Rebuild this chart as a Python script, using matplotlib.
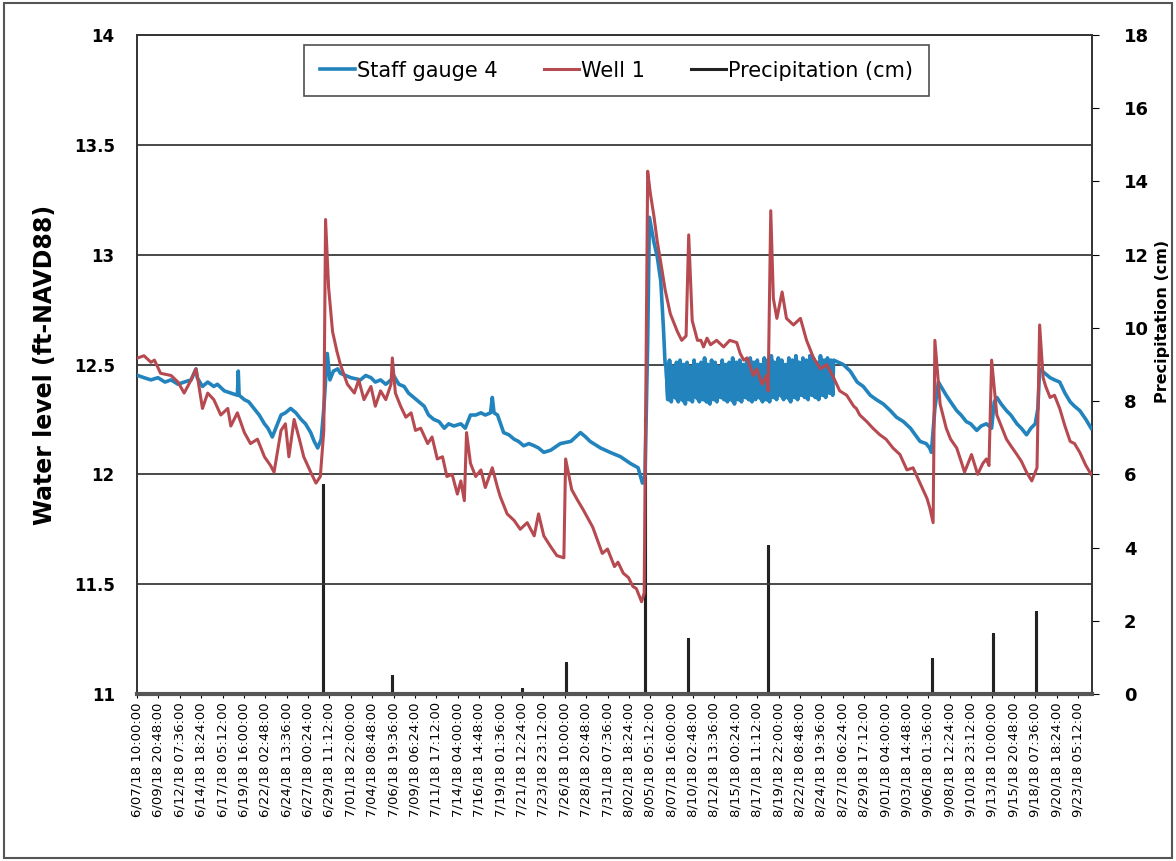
import numpy as np
import pandas as pd
import matplotlib
matplotlib.use("Agg")
import matplotlib.pyplot as plt
from matplotlib.patches import Rectangle
from matplotlib.collections import LineCollection

# keep every zig-zag of the dense gauge record
plt.rcParams["path.simplify"] = False

# ---- data (x = days since 6/07/18 10:00) ----
tick_labels = [
    "6/07/18 10:00:00", "6/09/18 20:48:00", "6/12/18 07:36:00", "6/14/18 18:24:00",
    "6/17/18 05:12:00", "6/19/18 16:00:00", "6/22/18 02:48:00", "6/24/18 13:36:00",
    "6/27/18 00:24:00", "6/29/18 11:12:00", "7/01/18 22:00:00", "7/04/18 08:48:00",
    "7/06/18 19:36:00", "7/09/18 06:24:00", "7/11/18 17:12:00", "7/14/18 04:00:00",
    "7/16/18 14:48:00", "7/19/18 01:36:00", "7/21/18 12:24:00", "7/23/18 23:12:00",
    "7/26/18 10:00:00", "7/28/18 20:48:00", "7/31/18 07:36:00", "8/02/18 18:24:00",
    "8/05/18 05:12:00", "8/07/18 16:00:00", "8/10/18 02:48:00", "8/12/18 13:36:00",
    "8/15/18 00:24:00", "8/17/18 11:12:00", "8/19/18 22:00:00", "8/22/18 08:48:00",
    "8/24/18 19:36:00", "8/27/18 06:24:00", "8/29/18 17:12:00", "9/01/18 04:00:00",
    "9/03/18 14:48:00", "9/06/18 01:36:00", "9/08/18 12:24:00", "9/10/18 23:12:00",
    "9/13/18 10:00:00", "9/15/18 20:48:00", "9/18/18 07:36:00", "9/20/18 18:24:00",
    "9/23/18 05:12:00",
]

gauge_days = [
    0.1, 0.8, 1.6, 2.4, 3.2, 3.9, 4.7, 5.4, 6.2, 6.75, 6.9, 7.5, 8.1, 8.8, 9.2, 10.0,
    10.75, 11.5, 11.6, 11.7, 12.3, 12.8, 13.4, 14.0, 14.6, 15.0, 15.5, 16.0, 16.5, 17.0,
    17.6, 18.2, 18.8, 19.3, 19.9, 20.3, 20.7, 21.1, 21.4, 21.8, 22.1, 22.5, 23.0, 23.3,
    24.5, 25.6, 26.2, 26.8, 27.3, 27.9, 28.5, 29.1, 29.4, 30.0, 30.6, 31.1, 31.7, 32.3,
    32.9, 33.4, 34.0, 34.6, 35.2, 35.7, 36.3, 37.1, 37.6, 38.2, 38.8, 39.4, 39.9, 40.5,
    40.7, 40.9, 41.3, 42.0, 42.6, 43.2, 43.7, 44.3, 44.9, 45.5, 46.0, 46.6, 47.4, 48.5,
    49.7, 50.8, 51.4, 51.9, 53.1, 54.2, 55.4, 56.5, 57.4, 57.9, 58.2, 58.5, 58.7, 59.2,
    59.6, 60.0, 60.3, 60.5,
]
gauge_ft = [
    12.45, 12.44, 12.43, 12.44, 12.42, 12.43, 12.41, 12.42, 12.43, 12.48, 12.44, 12.40,
    12.42, 12.40, 12.41, 12.38, 12.37, 12.36, 12.47, 12.36, 12.34, 12.33, 12.30, 12.27,
    12.23, 12.21, 12.17, 12.22, 12.27, 12.28, 12.30, 12.28, 12.25, 12.23, 12.19, 12.15,
    12.12, 12.16, 12.30, 12.55, 12.43, 12.47, 12.48, 12.46, 12.44, 12.43, 12.45, 12.44,
    12.42, 12.43, 12.41, 12.43, 12.45, 12.41, 12.40, 12.37, 12.35, 12.33, 12.31, 12.27,
    12.25, 12.24, 12.21, 12.23, 12.22, 12.23, 12.21, 12.27, 12.27, 12.28, 12.27, 12.28,
    12.35, 12.28, 12.27, 12.19, 12.18, 12.16, 12.15, 12.13, 12.14, 12.13, 12.12, 12.10,
    12.11, 12.14, 12.15, 12.19, 12.17, 12.15, 12.12, 12.10, 12.08, 12.05, 12.03, 11.96,
    12.00, 12.60, 13.17, 13.06, 12.99, 12.88, 12.67, 12.50,
]

# noisy stretch of the staff gauge (8/05 - 8/25): upper and lower swings
band_start, band_end = 60.6, 79.7
band_hi = [
    12.50, 12.52, 12.49, 12.51, 12.52, 12.50, 12.51, 12.49, 12.52, 12.50, 12.51, 12.53,
    12.50, 12.52, 12.51, 12.49, 12.52, 12.50, 12.51, 12.53, 12.51, 12.52, 12.50, 12.52,
    12.53, 12.51, 12.52, 12.50, 12.53, 12.52, 12.54, 12.51, 12.53, 12.52, 12.50, 12.53,
    12.52, 12.54, 12.51, 12.53, 12.52, 12.54, 12.53, 12.51, 12.54, 12.52, 12.53, 12.52,
]
band_lo = [
    12.34, 12.33, 12.35, 12.33, 12.34, 12.32, 12.34, 12.33, 12.35, 12.33, 12.34, 12.33,
    12.32, 12.34, 12.33, 12.35, 12.34, 12.33, 12.34, 12.32, 12.34, 12.33, 12.35, 12.34,
    12.33, 12.34, 12.35, 12.33, 12.34, 12.33, 12.35, 12.34, 12.36, 12.34, 12.35, 12.33,
    12.35, 12.34, 12.36, 12.35, 12.34, 12.36, 12.35, 12.34, 12.36, 12.35, 12.37, 12.36,
]

gauge_tail_days = [
    79.8, 80.9, 81.7, 82.5, 83.2, 84.0, 84.7, 85.5, 86.3, 87.0, 87.8, 88.6, 89.7, 90.4,
    90.8, 91.0, 91.4, 91.8, 92.1, 92.7, 93.2, 93.9, 94.4, 95.0, 95.5, 96.2, 96.7, 97.3,
    97.9, 98.2, 98.5, 99.0, 99.6, 100.1, 100.8, 101.3, 101.9, 102.4, 102.9, 103.2, 103.4,
    104.0, 104.6, 105.1, 105.7, 106.3, 106.9, 107.4, 108.0, 108.7, 109.3,
]
gauge_tail_ft = [
    12.52, 12.50, 12.47, 12.42, 12.40, 12.36, 12.34, 12.32, 12.29, 12.26, 12.24, 12.21,
    12.15, 12.14, 12.12, 12.10, 12.30, 12.42, 12.40, 12.36, 12.33, 12.29, 12.27, 12.24,
    12.23, 12.20, 12.22, 12.23, 12.21, 12.33, 12.35, 12.32, 12.29, 12.27, 12.23, 12.21,
    12.18, 12.21, 12.23, 12.30, 12.48, 12.46, 12.44, 12.43, 12.42, 12.37, 12.33, 12.31,
    12.29, 12.25, 12.21,
]

well_days = [
    0.1, 0.8, 1.6, 2.0, 2.7, 3.9, 4.7, 5.4, 6.2, 6.75, 6.9, 7.5, 8.1, 8.8, 9.6, 10.4,
    10.75, 11.5, 12.3, 13.0, 13.8, 14.6, 15.3, 15.7, 16.5, 17.0, 17.4, 18.0, 18.6, 19.1,
    19.9, 20.5, 21.0, 21.4, 21.6, 21.95, 22.4, 22.9, 23.3, 24.1, 24.9, 25.4, 26.0, 26.8,
    27.3, 27.9, 28.5, 29.1, 29.25, 29.6, 30.2, 30.8, 31.4, 31.9, 32.5, 33.3, 33.8, 34.4,
    35.0, 35.5, 36.1, 36.7, 37.1, 37.5, 37.75, 38.2, 38.8, 39.4, 39.9, 40.7, 41.3, 41.6,
    42.4, 43.2, 43.9, 44.7, 45.5, 46.0, 46.6, 47.4, 48.1, 48.9, 49.1, 49.8, 50.5, 51.1,
    52.2, 53.3, 53.9, 54.7, 55.1, 55.7, 56.3, 56.8, 57.2, 57.8, 58.1, 58.5, 58.8, 59.2,
    59.6, 60.1, 60.5, 61.1, 61.9, 62.4, 62.9, 63.2, 63.6, 64.2, 64.6, 64.9, 65.3, 65.7,
    66.4, 67.2, 67.9, 68.7, 69.1, 69.5, 69.9, 70.6, 71.0, 71.6, 72.1, 72.3, 72.6, 72.9,
    73.3, 73.9, 74.4, 75.2, 76.0, 76.7, 77.5, 78.3, 79.0, 79.8, 80.5, 81.3, 82.1, 82.4,
    82.8, 83.6, 84.3, 85.1, 85.8, 86.6, 87.4, 88.2, 88.9, 89.7, 90.5, 90.8, 91.2, 91.4,
    92.0, 92.7, 93.2, 93.9, 94.4, 94.8, 95.6, 96.3, 96.9, 97.3, 97.6, 97.9, 98.5, 99.0,
    99.6, 100.1, 100.8, 101.3, 101.9, 102.5, 103.1, 103.4, 103.8, 104.1, 104.6, 105.1,
    105.7, 106.3, 106.9, 107.4, 108.0, 108.7, 109.3,
]
well_ft = [
    12.53, 12.54, 12.51, 12.52, 12.46, 12.45, 12.42, 12.37, 12.43, 12.48, 12.45, 12.30,
    12.37, 12.34, 12.27, 12.30, 12.22, 12.28, 12.19, 12.14, 12.16, 12.08, 12.04, 12.01,
    12.20, 12.23, 12.08, 12.25, 12.16, 12.08, 12.01, 11.96, 11.99, 12.20, 13.16, 12.85,
    12.65, 12.56, 12.50, 12.41, 12.37, 12.43, 12.34, 12.40, 12.31, 12.38, 12.34, 12.41,
    12.53, 12.37, 12.31, 12.26, 12.28, 12.20, 12.21, 12.14, 12.17, 12.07, 12.08, 11.99,
    12.00, 11.91, 11.97, 11.88, 12.19, 12.05, 11.99, 12.02, 11.94, 12.03, 11.94, 11.90,
    11.82, 11.79, 11.75, 11.78, 11.72, 11.82, 11.72, 11.67, 11.63, 11.62, 12.07, 11.93,
    11.88, 11.84, 11.76, 11.64, 11.66, 11.58, 11.60, 11.55, 11.53, 11.49, 11.48, 11.42,
    11.46, 13.38, 13.28, 13.18, 13.06, 12.94, 12.84, 12.73, 12.65, 12.61, 12.63, 13.09,
    12.70, 12.61, 12.61, 12.58, 12.62, 12.59, 12.61, 12.58, 12.61, 12.60, 12.55, 12.52,
    12.53, 12.45, 12.48, 12.41, 12.45, 12.38, 13.20, 12.80, 12.71, 12.83, 12.71, 12.68,
    12.71, 12.61, 12.53, 12.48, 12.50, 12.44, 12.38, 12.36, 12.31, 12.30, 12.27, 12.24,
    12.21, 12.18, 12.16, 12.12, 12.09, 12.02, 12.03, 11.96, 11.89, 11.85, 11.78, 12.61,
    12.32, 12.21, 12.16, 12.12, 12.06, 12.01, 12.09, 12.00, 12.05, 12.07, 12.04, 12.52,
    12.27, 12.22, 12.16, 12.13, 12.09, 12.06, 12.01, 11.97, 12.03, 12.68, 12.44, 12.40,
    12.35, 12.36, 12.30, 12.22, 12.15, 12.14, 12.10, 12.04, 12.00,
]

precip_days = [21.25, 29.23, 44.08, 49.13, 58.17, 63.15, 72.25, 91.03, 98.03, 103.0]
precip_cm = [5.7, 0.5, 0.15, 0.85, 7.55, 1.5, 4.05, 0.95, 1.65, 2.25]

# ---- assemble series ----
band_vals = np.column_stack([band_hi, band_lo]).ravel()
band_days = np.linspace(band_start, band_end, len(band_vals))
gauge_x = np.concatenate([gauge_days, band_days, gauge_tail_days])
gauge_y = np.concatenate([gauge_ft, band_vals, gauge_tail_ft])

start = pd.to_datetime(tick_labels[0], format="%m/%d/%y %H:%M:%S")
tick_pos = [(pd.to_datetime(t, format="%m/%d/%y %H:%M:%S") - start) / pd.Timedelta(days=1)
            for t in tick_labels]

# precipitation drawn as a line that sits at 0 and jumps up on rain days
px, py = [0.0], [0.0]
for d, p in zip(precip_days, precip_cm):
    px += [d, d, d]
    py += [0.0, p, 0.0]
px.append(109.4)
py.append(0.0)

blue = "#2384bd"
red = "#b64a50"
dark = "#222222"

fig = plt.figure(figsize=(11.76, 8.61), dpi=100)
ax = fig.add_axes([137 / 1176, 1 - 694 / 861, (1092 - 137) / 1176, (694 - 35) / 861])
ax2 = ax.twinx()

ax.plot(gauge_x, gauge_y, color=blue, lw=2.6, label="Staff gauge 4", zorder=3)
# the noisy stretch is so dense it reads as a solid band: fill its envelope
# and stroke each swing separately
ax.fill_between(band_days[0::2], band_hi, band_lo, color=blue, lw=0, zorder=3)
pts = np.column_stack([band_days, band_vals])
segs = np.stack([pts[:-1], pts[1:]], axis=1)
ax.add_collection(LineCollection(segs, colors=blue, linewidths=2.6, zorder=3))
ax.plot(well_days, well_ft, color=red, lw=2.2, label="Well 1", zorder=4)
ax2.plot(px, py, color=dark, lw=2.2, label="Precipitation (cm)")

ax.set_zorder(ax2.get_zorder() + 1)
ax.patch.set_visible(False)

ax.set_xlim(0, 109.4)
ax.set_ylim(11, 14)
ax2.set_ylim(0, 18)
ax.set_yticks(np.arange(11, 14.01, 0.5))
ax.set_yticklabels(["11", "11.5", "12", "12.5", "13", "13.5", "14"])
ax2.set_yticks(np.arange(0, 19, 2))

ax.grid(axis="y", color="#3a3a3a", lw=1.3)
ax.set_xticks(tick_pos)
ax.set_xticklabels(tick_labels, rotation=90, fontsize=9.5, color="black")
ax.tick_params(axis="x", length=3, pad=3)
ax.tick_params(axis="y", length=0, pad=16, labelsize=12)
ax2.tick_params(axis="y", length=5, pad=18, labelsize=13, direction="out")
for lab in ax.get_yticklabels() + ax2.get_yticklabels():
    lab.set_fontweight("bold")

ax.set_ylabel("Water level (ft-NAVD88)", fontsize=17, fontweight="bold", labelpad=12)
ax2.set_ylabel("Precipitation (cm)", fontsize=11.5, fontweight="bold")
ax2.yaxis.set_label_coords(1.066, 0.565)

for a in (ax, ax2):
    for s in a.spines.values():
        s.set_color("#333333")
        s.set_linewidth(1.2)
ax.spines["bottom"].set_linewidth(3)
ax.spines["bottom"].set_color("#555555")

h1, l1 = ax.get_legend_handles_labels()
h2, l2 = ax2.get_legend_handles_labels()
leg = ax.legend(h1 + h2, l1 + l2, loc="upper center", bbox_to_anchor=(0.502, 0.985),
                ncol=3, fontsize=15, frameon=True, fancybox=False, handlelength=1.7,
                handletextpad=0.1, columnspacing=2.2, borderpad=0.75, borderaxespad=0)
leg.get_frame().set_edgecolor("#222222")
leg.get_frame().set_linewidth(1.2)

# outer chart border
fig.patches.append(Rectangle((0.003, 0.003), 0.994, 0.994, transform=fig.transFigure,
                             fill=False, edgecolor="#555555", lw=1.5))

fig.savefig("out.png", dpi=100)
